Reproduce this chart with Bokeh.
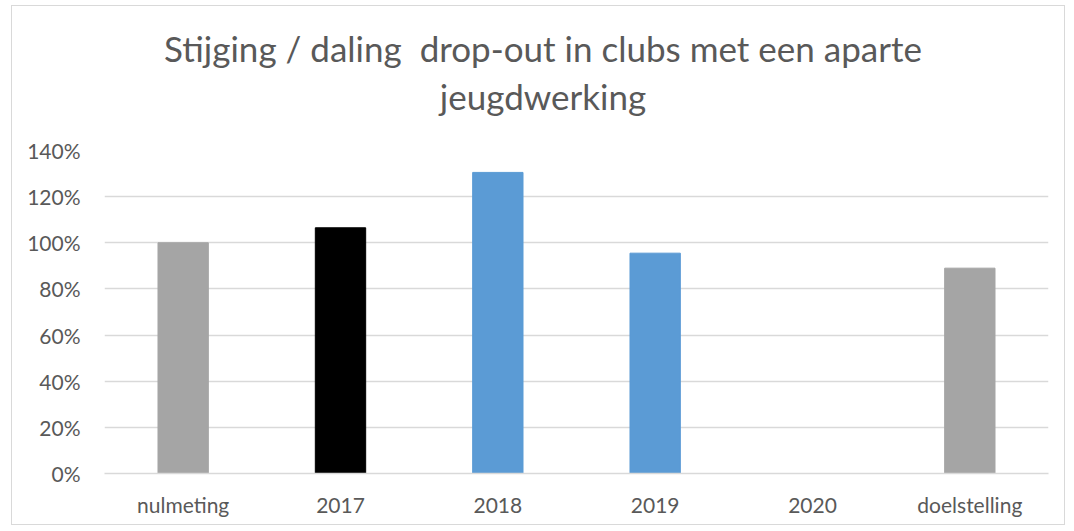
import math
from bokeh.plotting import figure
from bokeh.models import Div, NumeralTickFormatter, ColumnDataSource, FactorRange, Range1d
from bokeh.layouts import column
from bokeh.embed import file_html
from bokeh.resources import INLINE

categories = ["nulmeting", "2017", "2018", "2019", "2020", "doelstelling"]
values = [1.00, 1.065, 1.305, 0.955, float("nan"), 0.89]
colors = ["#a5a5a5", "#000000", "#5b9bd5", "#5b9bd5", "#5b9bd5", "#a5a5a5"]
y_ticks = [0, 0.2, 0.4, 0.6, 0.8, 1.0, 1.2, 1.4]
title_lines = ["Stijging / daling&nbsp; drop-out in clubs met een aparte", "jeugdwerking"]

FONT = "Lato"
TXT = "#595959"
W = 1052
DIV_H = 130
FIG_H = 388

title = Div(text=(f"<div style='width:{W}px;box-sizing:border-box;padding-top:18px;padding-left:10px;"
                  f"text-align:center;font-family:{FONT};font-size:35px;line-height:48px;color:{TXT};'>"
                  + "<br>".join(title_lines) + "</div>"),
            width=W, height=DIV_H, styles={"margin": "0", "padding": "0"})

src = ColumnDataSource(dict(cat=categories, val=values, color=colors))

p = figure(width=W, height=FIG_H, x_range=FactorRange(*categories, range_padding=0),
           y_range=Range1d(0, 1.4), output_backend="svg", toolbar_location=None,
           min_border_left=92, min_border_right=16, min_border_top=14, min_border_bottom=51)

p.vbar(x="cat", top="val", width=0.32, color="color", source=src)

p.outline_line_color = None
p.xgrid.grid_line_color = None
p.ygrid.grid_line_color = "#d9d9d9"
p.ygrid.grid_line_width = 1.5

p.yaxis.ticker = y_ticks
p.yaxis.formatter = NumeralTickFormatter(format="0%")
p.yaxis.axis_line_color = None
p.yaxis.major_tick_line_color = None
p.yaxis.minor_tick_line_color = None
p.yaxis.major_label_text_font = FONT
p.yaxis.major_label_text_font_size = "21px"
p.yaxis.major_label_text_color = TXT
p.yaxis.major_label_standoff = 18

p.xaxis.axis_line_color = "#d9d9d9"
p.xaxis.axis_line_width = 1.5
p.xaxis.major_tick_line_color = None
p.xaxis.minor_tick_line_color = None
p.xaxis.major_label_text_font = FONT
p.xaxis.major_label_text_font_size = "21px"
p.xaxis.major_label_text_color = TXT
p.xaxis.major_label_standoff = 12

layout = column(title, p, spacing=0,
                styles={"border": "1.5px solid #d9d9d9", "margin": "5px 0 0 11px"})

open("out.html", "w").write(file_html(layout, INLINE))
